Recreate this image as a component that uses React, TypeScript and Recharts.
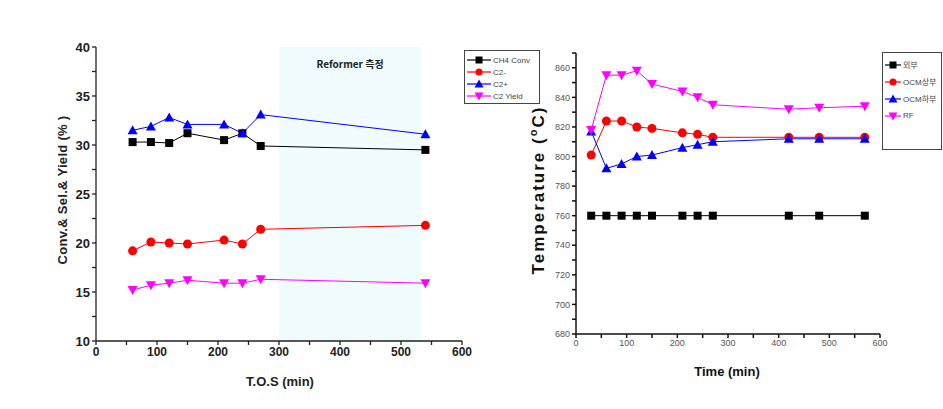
import { LineChart, Line, XAxis, YAxis, ReferenceArea, Label } from 'recharts'

// left chart: T.O.S (min)
const tosMin = [60, 90, 120, 150, 210, 240, 270, 540]
const ch4Conv = [30.3, 30.3, 30.2, 31.2, 30.5, 31.2, 29.9, 29.5]
const c2Minus = [19.2, 20.1, 20.0, 19.9, 20.3, 19.9, 21.4, 21.8]
const c2Plus = [31.5, 31.9, 32.8, 32.1, 32.1, 31.2, 33.1, 31.1]
const c2Yield = [15.2, 15.7, 15.9, 16.2, 15.9, 15.9, 16.3, 15.9]
const leftYTicks = [10, 12.5, 15, 17.5, 20, 22.5, 25, 27.5, 30, 32.5, 35, 37.5, 40]
const xTicks = [0, 50, 100, 150, 200, 250, 300, 350, 400, 450, 500, 550, 600]

// right chart: Time (min)
const timeMin = [30, 60, 90, 120, 150, 210, 240, 270, 420, 480, 570]
const outside = [760, 760, 760, 760, 760, 760, 760, 760, 760, 760, 760]
const ocmUpper = [801, 824, 824, 820, 819, 816, 815, 813, 813, 813, 813]
const ocmLower = [817, 792, 795, 800, 801, 806, 808, 810, 812, 812, 812]
const rf = [818, 855, 855, 858, 849, 844, 840, 835, 832, 833, 834]
const rightYTicks = [680, 690, 700, 710, 720, 730, 740, 750, 760, 770, 780, 790, 800, 810, 820, 830, 840, 850, 860, 870]

const leftData = tosMin.map((t, i) => ({ t, ch4: ch4Conv[i], c2m: c2Minus[i], c2p: c2Plus[i], yld: c2Yield[i] }))
const rightData = timeMin.map((t, i) => ({ t, ext: outside[i], up: ocmUpper[i], low: ocmLower[i], rf: rf[i] }))

type Shape = 'square' | 'circle' | 'up' | 'down'

function Marker({ cx, cy, shape, color, s }: { cx: number; cy: number; shape: Shape; color: string; s: number }) {
  const h = s / 2
  if (shape === 'square') return <rect x={cx - h} y={cy - h} width={s} height={s} fill={color} />
  if (shape === 'circle') return <circle cx={cx} cy={cy} r={h} fill={color} />
  if (shape === 'up') return <polygon points={`${cx},${cy - h - 1} ${cx - h - 1},${cy + h} ${cx + h + 1},${cy + h}`} fill={color} />
  return <polygon points={`${cx},${cy + h + 1} ${cx - h - 1},${cy - h} ${cx + h + 1},${cy - h}`} fill={color} />
}

const dot = (shape: Shape, color: string, s = 8) => (p: any) => (
  <Marker key={p.index} cx={p.cx} cy={p.cy} shape={shape} color={color} s={s} />
)

function LegendBox({ items, style, fontSize, iconW, rowH }: { items: { name: string; shape: Shape; color: string }[]; style: any; fontSize: number; iconW: number; rowH: number }) {
  return (
    <div style={{ position: 'absolute', border: '1px solid #444', background: '#fff', boxSizing: 'border-box', padding: '3px 2px', ...style }}>
      {items.map((it) => (
        <div key={it.name} style={{ display: 'flex', alignItems: 'center', height: rowH, fontSize, color: '#444', fontFamily: 'Liberation Sans, Arial, "Noto Sans CJK KR"', whiteSpace: 'nowrap' }}>
          <svg width={iconW} height={10}>
            <line x1={0} y1={5} x2={iconW} y2={5} stroke={it.color} strokeWidth={1.2} />
            <Marker cx={iconW / 2} cy={5} shape={it.shape} color={it.color} s={7} />
          </svg>
          <span style={{ marginLeft: 2 }}>{it.name}</span>
        </div>
      ))}
    </div>
  )
}

const fmtLeft = (v: number) => (v % 5 === 0 ? String(v) : '')
const fmtX = (v: number) => (v % 100 === 0 ? String(v) : '')
const fmtRight = (v: number) => (v % 20 === 0 ? String(v) : '')

export default function App() {
  const font = 'Liberation Sans, Arial, sans-serif'
  return (
    <div style={{ position: 'absolute', left: 0, top: 0, width: 943, height: 409, background: '#fff', overflow: 'hidden', fontFamily: font }}>
      <div style={{ position: 'absolute', left: 0, top: 0 }}>
        <LineChart width={560} height={409} data={leftData} margin={{ top: 47, right: 98, left: 46, bottom: 38 }}>
          <ReferenceArea x1={300} x2={533} y1={10} y2={40} fill="#effbfc" fillOpacity={1} stroke="none">
            <Label position="insideTop" offset={14} style={{ fontSize: 10, fontWeight: 700, fill: '#222', fontFamily: '"Noto Sans CJK KR", sans-serif' }}>
              Reformer 측정
            </Label>
          </ReferenceArea>
          <XAxis type="number" dataKey="t" domain={[0, 600]} ticks={xTicks} tickFormatter={fmtX} interval={0}
            stroke="#222" strokeWidth={1.3} tickSize={4} height={30}
            tick={{ fontSize: 12, fontWeight: 700, fill: '#222', fontFamily: font }} />
          <XAxis xAxisId="top" orientation="top" type="number" domain={[0, 600]} tick={false} tickLine={false} stroke="#333" height={0} />
          <YAxis type="number" domain={[10, 40]} ticks={leftYTicks} tickFormatter={fmtLeft} interval={0}
            stroke="#222" strokeWidth={1.3} tickSize={4} width={50}
            tick={{ fontSize: 13, fontWeight: 700, fill: '#222', fontFamily: font }} />
          <YAxis yAxisId="right" orientation="right" type="number" domain={[10, 40]} tick={false} tickLine={false} stroke="#333" width={0} />
          <Line dataKey="ch4" stroke="#000" strokeWidth={1} dot={dot('square', '#000')} isAnimationActive={false} />
          <Line dataKey="c2m" stroke="#ff0000" strokeWidth={1} dot={dot('circle', '#ff0000', 9)} isAnimationActive={false} />
          <Line dataKey="c2p" stroke="#0000ff" strokeWidth={1} dot={dot('up', '#0000ff')} isAnimationActive={false} />
          <Line dataKey="yld" stroke="#ff00ff" strokeWidth={1} dot={dot('down', '#ff00ff')} isAnimationActive={false} />
        </LineChart>
      </div>
      <div style={{ position: 'absolute', left: 500, top: 0 }}>
        <LineChart width={443} height={409} data={rightData} margin={{ top: 53, right: 63, left: 46, bottom: 45 }}>
          <XAxis type="number" dataKey="t" domain={[0, 600]} ticks={xTicks} tickFormatter={fmtX} interval={0}
            stroke="#111" strokeWidth={1.5} tickSize={4} height={30}
            tick={{ fontSize: 9, fill: '#555', fontFamily: font }} />
          <XAxis xAxisId="top" orientation="top" type="number" domain={[0, 600]} tick={false} tickLine={false} stroke="#333" height={0} />
          <YAxis type="number" domain={[680, 870]} ticks={rightYTicks} tickFormatter={fmtRight} interval={0}
            stroke="#111" strokeWidth={1.5} tickSize={4} width={30}
            tick={{ fontSize: 9, fill: '#555', fontFamily: font }} />
          <YAxis yAxisId="right" orientation="right" type="number" domain={[680, 870]} tick={false} tickLine={false} stroke="#333" width={0} />
          <Line dataKey="ext" stroke="#000" strokeWidth={1} dot={dot('square', '#000')} isAnimationActive={false} />
          <Line dataKey="up" stroke="#ff0000" strokeWidth={1} dot={dot('circle', '#ff0000', 9)} isAnimationActive={false} />
          <Line dataKey="low" stroke="#0000ff" strokeWidth={1} dot={dot('up', '#0000ff')} isAnimationActive={false} />
          <Line dataKey="rf" stroke="#ff00ff" strokeWidth={1} dot={dot('down', '#ff00ff')} isAnimationActive={false} />
        </LineChart>
      </div>

      <div style={{ position: 'absolute', left: 62, top: 190, transform: 'translate(-50%, -50%) rotate(-90deg)', whiteSpace: 'nowrap', fontSize: 13, fontWeight: 700, color: '#222', letterSpacing: 0.3 }}>
        Conv.&amp; Sel.&amp; Yield (% )
      </div>
      <div style={{ position: 'absolute', left: 280, top: 381, transform: 'translate(-50%, -50%)', whiteSpace: 'nowrap', fontSize: 13, fontWeight: 700, color: '#222' }}>
        T.O.S (min)
      </div>
      <div style={{ position: 'absolute', left: 538, top: 190, transform: 'translate(-50%, -50%) rotate(-90deg)', whiteSpace: 'nowrap', fontSize: 17, fontWeight: 700, color: '#111', letterSpacing: 2 }}>
        Temperature (<sup style={{ fontSize: 11 }}>o</sup>C)
      </div>
      <div style={{ position: 'absolute', left: 727, top: 371, transform: 'translate(-50%, -50%)', whiteSpace: 'nowrap', fontSize: 13, fontWeight: 700, color: '#111' }}>
        Time (min)
      </div>

      <LegendBox fontSize={8} iconW={24} rowH={12} style={{ left: 464, top: 50, width: 76, height: 54 }}
        items={[
          { name: 'CH4  Conv', shape: 'square', color: '#000' },
          { name: 'C2-', shape: 'circle', color: '#ff0000' },
          { name: 'C2+', shape: 'up', color: '#0000ff' },
          { name: 'C2 Yield', shape: 'down', color: '#ff00ff' },
        ]} />
      <LegendBox fontSize={8} iconW={16} rowH={17} style={{ left: 882, top: 52, width: 60, height: 98 }}
        items={[
          { name: '외부', shape: 'square', color: '#000' },
          { name: 'OCM상부', shape: 'circle', color: '#ff0000' },
          { name: 'OCM하부', shape: 'up', color: '#0000ff' },
          { name: 'RF', shape: 'down', color: '#ff00ff' },
        ]} />
    </div>
  )
}
